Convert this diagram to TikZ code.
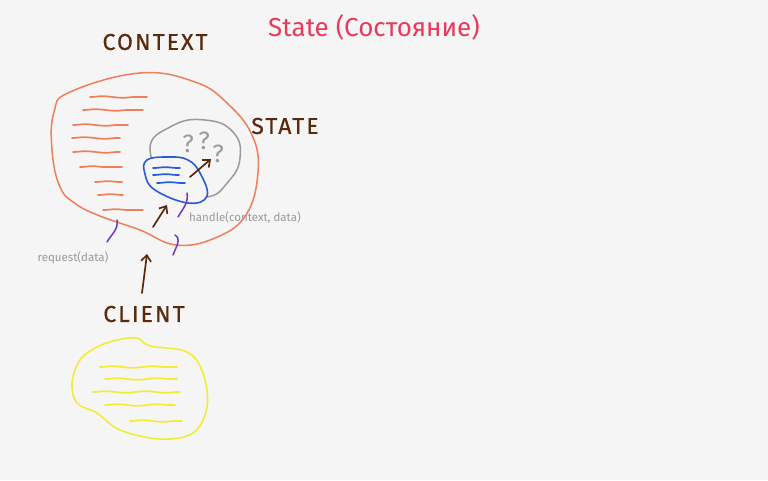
\documentclass[tikz,border=0pt]{standalone}
\usepackage{fontspec}
\setmainfont{Fira Sans}
\newfontfamily\handfont[LetterSpace=9, FakeBold=0.6]{Fira Sans}
\usetikzlibrary{decorations.pathmorphing, arrows.meta}
\definecolor{paper}{HTML}{F5F5F5}
\definecolor{ink}{HTML}{5A2A0E}
\definecolor{titlered}{HTML}{E83A5C}
\definecolor{ctxorange}{HTML}{EE7F5A}
\definecolor{stgray}{HTML}{9A9A9A}
\definecolor{stblue}{HTML}{2A5BD8}
\definecolor{clyellow}{HTML}{F2EC38}
\definecolor{hookpurple}{HTML}{6E38C8}
\begin{document}
\begin{tikzpicture}[x=1pt, y=-1pt, line cap=round, line join=round,
    heading/.style={text=ink, font=\handfont\fontsize{23}{26}\selectfont},
    call/.style={text=stgray, font=\fontsize{11.5}{13}\selectfont},
    wave/.style={line width=1.7pt, decorate, decoration={snake, segment length=40pt, amplitude=0.8pt}},
    hook/.style={hookpurple, line width=1.5pt},
    push/.style={ink, line width=1.7pt, -{Straight Barb[length=6pt, width=10pt]}}]
    \fill[paper] (0,0) rectangle (768,480);
    \useasboundingbox (0,0) rectangle (768,480);
    % titles
    \node[text=titlered, font=\fontsize{26}{30}\selectfont] (title) at (374,27) {State (Состояние)};
    \node[heading] (context) at (155,42) {CONTEXT};
    \node[heading] (state) at (285,126) {STATE};
    \node[heading] (client) at (144,314) {CLIENT};
    % context
    \draw[ctxorange, line width=1.5pt] plot[smooth cycle, tension=0.7] coordinates {
        (70,92) (140,73) (195,82) (227,103) (252,135) (258,172) (246,215) (215,238)
        (176,245) (140,230) (100,216) (76,204) (60,187) (52,150) (54,112)};
    \foreach \xa/\xb/\y in {90/147/97, 83/143/110, 73/128/125, 72/120/138, 73/120/152,
        80/122/167, 95/122/182, 98/123/195, 103/143/210}
        \draw[ctxorange, wave] (\xa,\y) -- (\xb,\y);
    % state
    \draw[stgray, line width=1.5pt] plot[smooth cycle, tension=0.8] coordinates {
        (150,150) (172,126) (205,120) (233,132) (240,158) (228,182) (207,197) (175,190)};
    \node[call, font=\fontsize{25}{26}\selectfont] (q1) at (188,144) {?};
    \node[call, font=\fontsize{25}{26}\selectfont] (q2) at (204,141) {?};
    \node[call, font=\fontsize{25}{26}\selectfont] (q3) at (218,154) {?};
    \fill[paper] plot[smooth cycle, tension=0.7] coordinates {
        (147,160) (170,157) (188,160) (200,173) (207,196) (188,203) (155,190) (145,174)};
    \draw[stblue, line width=1.6pt] plot[smooth cycle, tension=0.7] coordinates {
        (147,160) (170,157) (188,160) (200,173) (207,196) (188,203) (155,190) (145,174)};
    \foreach \xa/\xb/\y in {153/180/168, 153/179/175, 157/185/183}
        \draw[stblue, wave] (\xa,\y) -- (\xb,\y);
    % calls
    \coordinate (c1) at (190,177); \coordinate (c2) at (211,159);
    \coordinate (c3) at (153,227); \coordinate (c4) at (167,205);
    \coordinate (c5) at (142,293); \coordinate (c6) at (147,254);
    \draw[push] (c1) -- (c2);
    \draw[push] (c3) -- (c4);
    \draw[push] (c5) -- (c6);
    \draw[hook] (117,220) to[out=-80, in=60] (107,242);
    \draw[hook] (187,193) to[out=-80, in=60] (178,217);
    \draw[hook] (175,235) to[out=-30, in=70] (173,255);
    \node[call] (request) at (73,258) {request(data)};
    \node[call] (handle) at (245,218) {handle(context, data)};
    % client
    \draw[clyellow, line width=1.6pt] plot[smooth cycle, tension=0.6] coordinates {
        (117,340) (137,338) (150,346) (187,352) (203,373) (207,407) (193,433)
        (160,439) (120,430) (97,413) (77,403) (72,383) (80,360) (97,347)};
    \foreach \xa/\xb/\y in {100/177/367, 105/177/379, 93/180/392, 105/175/405, 130/182/421}
        \draw[clyellow, wave] (\xa,\y) -- (\xb,\y);
\end{tikzpicture}
\end{document}
